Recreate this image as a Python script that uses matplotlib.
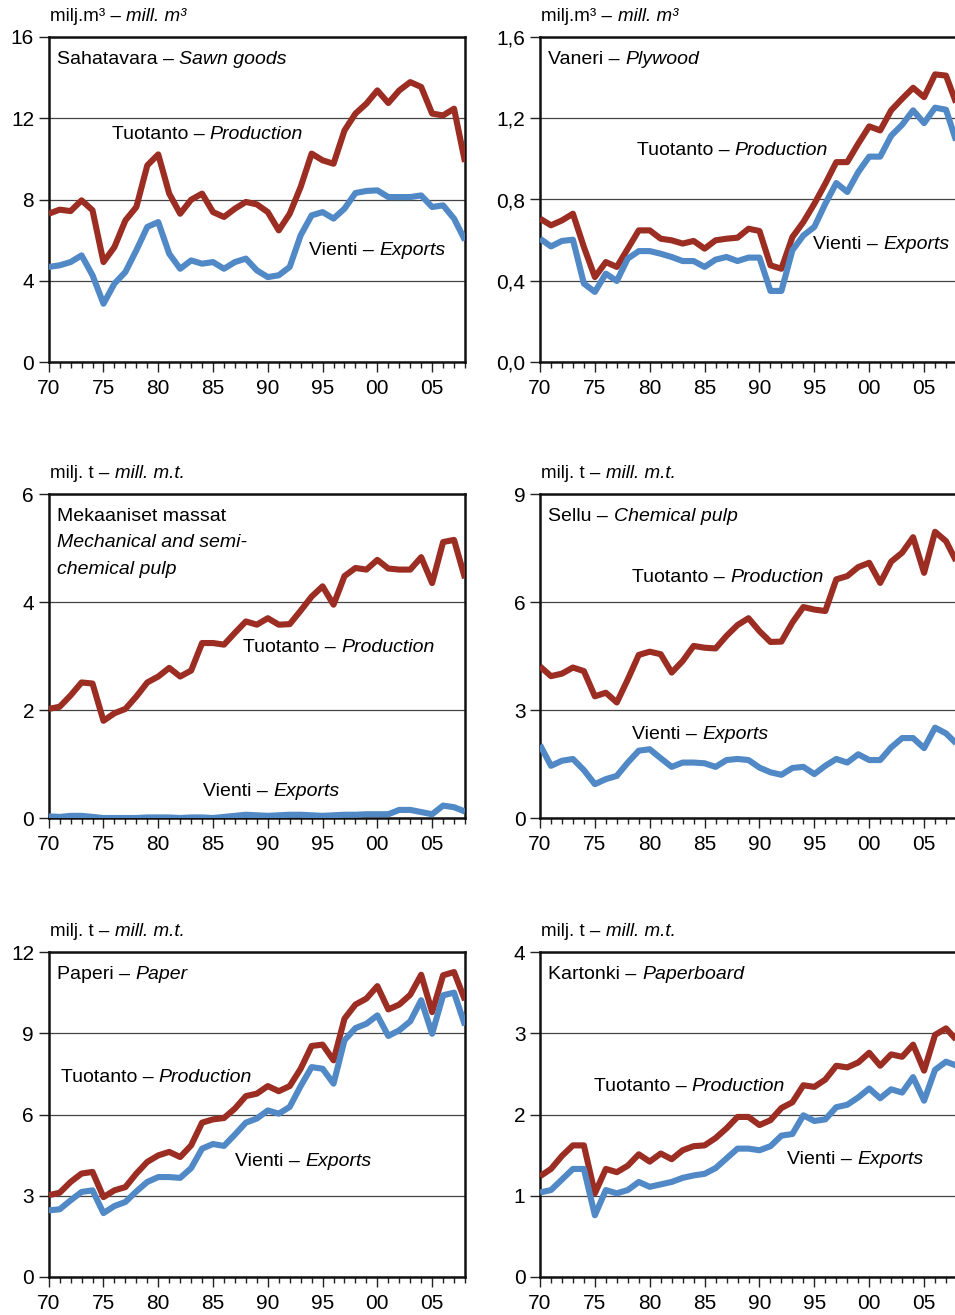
import numpy as np
import matplotlib
matplotlib.use("Agg")
import matplotlib.pyplot as plt
from matplotlib.ticker import MultipleLocator, FuncFormatter

plt.rcParams['font.family'] = ['Liberation Sans', 'DejaVu Sans']

years = np.arange(1970, 2009)

# Sahatavara - Sawn goods (milj. m3)
sawn_prod = [7.30, 7.50, 7.43, 7.96, 7.47, 4.92, 5.66, 6.97, 7.63, 9.68,
             10.22, 8.29, 7.30, 7.99, 8.29, 7.38, 7.14, 7.55, 7.88, 7.76,
             7.38, 6.48, 7.30, 8.62, 10.26, 9.93, 9.76, 11.40, 12.23, 12.72,
             13.37, 12.75, 13.37, 13.78, 13.54, 12.23, 12.14, 12.47, 9.85]
sawn_exp = [4.68, 4.76, 4.92, 5.25, 4.27, 2.87, 3.86, 4.43, 5.50, 6.65,
            6.89, 5.33, 4.59, 5.00, 4.84, 4.92, 4.59, 4.92, 5.09, 4.51,
            4.18, 4.27, 4.68, 6.24, 7.22, 7.38, 7.06, 7.55, 8.32, 8.42,
            8.45, 8.12, 8.12, 8.12, 8.20, 7.63, 7.71, 7.06, 5.99]

# Vaneri - Plywood (milj. m3)
ply_prod = [0.706, 0.673, 0.697, 0.730, 0.566, 0.418, 0.492, 0.468, 0.558, 0.648,
            0.648, 0.607, 0.599, 0.583, 0.596, 0.558, 0.599, 0.607, 0.612, 0.656,
            0.645, 0.476, 0.459, 0.615, 0.689, 0.779, 0.878, 0.984, 0.984, 1.075,
            1.160, 1.140, 1.239, 1.296, 1.350, 1.304, 1.416, 1.410, 1.264]
ply_exp = [0.607, 0.569, 0.596, 0.602, 0.386, 0.345, 0.435, 0.399, 0.509, 0.546,
           0.546, 0.533, 0.517, 0.497, 0.497, 0.468, 0.504, 0.517, 0.497, 0.514,
           0.514, 0.350, 0.350, 0.550, 0.623, 0.665, 0.779, 0.881, 0.837, 0.935,
           1.011, 1.011, 1.114, 1.168, 1.239, 1.176, 1.252, 1.242, 1.075]

# Mekaaniset massat - Mechanical and semi-chemical pulp (milj. t)
mech_prod = [2.02, 2.06, 2.27, 2.51, 2.49, 1.80, 1.94, 2.02, 2.25, 2.51,
             2.62, 2.78, 2.62, 2.73, 3.24, 3.24, 3.21, 3.43, 3.64, 3.58,
             3.70, 3.58, 3.59, 3.84, 4.10, 4.29, 3.95, 4.48, 4.63, 4.60,
             4.78, 4.62, 4.60, 4.60, 4.83, 4.35, 5.11, 5.15, 4.44]
mech_exp = [0.03, 0.02, 0.04, 0.04, 0.02, 0.00, 0.00, 0.00, 0.00, 0.01,
            0.01, 0.01, 0.00, 0.01, 0.01, 0.00, 0.02, 0.04, 0.06, 0.05,
            0.04, 0.05, 0.06, 0.06, 0.05, 0.04, 0.05, 0.06, 0.06, 0.07,
            0.07, 0.07, 0.15, 0.15, 0.11, 0.07, 0.23, 0.20, 0.12]

# Sellu - Chemical pulp (milj. t)
chem_prod = [4.21, 3.94, 4.01, 4.18, 4.08, 3.38, 3.48, 3.21, 3.85, 4.53,
             4.62, 4.55, 4.04, 4.36, 4.78, 4.73, 4.71, 5.06, 5.36, 5.55,
             5.19, 4.89, 4.90, 5.43, 5.86, 5.79, 5.75, 6.63, 6.72, 6.97,
             7.09, 6.53, 7.12, 7.37, 7.80, 6.81, 7.95, 7.69, 7.09]
chem_exp = [2.03, 1.45, 1.59, 1.64, 1.33, 0.94, 1.08, 1.17, 1.54, 1.87,
            1.91, 1.66, 1.42, 1.54, 1.54, 1.52, 1.42, 1.61, 1.64, 1.61,
            1.40, 1.27, 1.20, 1.39, 1.42, 1.22, 1.45, 1.64, 1.54, 1.77,
            1.61, 1.61, 1.96, 2.22, 2.22, 1.94, 2.51, 2.35, 2.05]

# Paperi - Paper (milj. t)
paper_prod = [3.02, 3.11, 3.51, 3.82, 3.88, 2.95, 3.20, 3.32, 3.82, 4.25,
              4.49, 4.62, 4.43, 4.86, 5.70, 5.82, 5.87, 6.22, 6.68, 6.77,
              7.05, 6.86, 7.05, 7.69, 8.53, 8.58, 8.00, 9.54, 10.06, 10.28,
              10.74, 9.88, 10.06, 10.42, 11.16, 9.78, 11.14, 11.26, 10.22]
paper_exp = [2.46, 2.50, 2.83, 3.14, 3.20, 2.36, 2.62, 2.77, 3.16, 3.51,
             3.69, 3.69, 3.66, 4.02, 4.74, 4.91, 4.84, 5.26, 5.70, 5.85,
             6.15, 6.03, 6.28, 7.05, 7.75, 7.69, 7.14, 8.74, 9.19, 9.35,
             9.66, 8.90, 9.11, 9.44, 10.22, 8.98, 10.40, 10.50, 9.29]

# Kartonki - Paperboard (milj. t)
board_prod = [1.24, 1.33, 1.49, 1.62, 1.62, 1.03, 1.33, 1.29, 1.37, 1.51,
              1.42, 1.52, 1.45, 1.56, 1.61, 1.62, 1.71, 1.83, 1.97, 1.97,
              1.87, 1.93, 2.08, 2.15, 2.36, 2.34, 2.43, 2.60, 2.58, 2.64,
              2.76, 2.60, 2.74, 2.71, 2.86, 2.54, 2.98, 3.06, 2.91]
board_exp = [1.04, 1.07, 1.20, 1.33, 1.33, 0.76, 1.07, 1.03, 1.07, 1.17,
             1.11, 1.14, 1.17, 1.22, 1.25, 1.27, 1.34, 1.46, 1.58, 1.58,
             1.56, 1.61, 1.74, 1.76, 1.99, 1.92, 1.94, 2.09, 2.12, 2.21,
             2.32, 2.20, 2.31, 2.27, 2.46, 2.17, 2.55, 2.65, 2.60]

RED = '#9b2d22'
BLUE = '#5089c6'

W, H = 955, 1315
fig = plt.figure(figsize=(W / 100, H / 100), dpi=100)


def make_axes(left_px, top_px, right_px, bottom_px):
    return fig.add_axes([left_px / W, 1 - bottom_px / H,
                         (right_px - left_px) / W, (bottom_px - top_px) / H])


def rich_text(ax, x, y, parts, transform, size=14, va='center'):
    # parts: list of (text, italic); drawn one after the other on a line
    t = None
    for txt, italic in parts:
        style = 'italic' if italic else 'normal'
        if t is None:
            t = ax.text(x, y, txt, transform=transform, fontsize=size,
                        style=style, ha='left', va=va, zorder=5)
        else:
            t = ax.annotate(txt, xycoords=t, xy=(1, 0), va='bottom',
                            ha='left', fontsize=size, style=style, zorder=5)
    return t


UNITS = {
    'm3': [('milj.m³ – ', False), ('mill. m³', True)],
    't': [('milj. t – ', False), ('mill. m.t.', True)],
}

specs = [
    # prod, exp, ymax, step, fmt, unit kind, title lines, prod label, exp label, rect px
    (sawn_prod, sawn_exp, 16, 4, lambda v, p: '%d' % v, 'm3',
     [[('Sahatavara – ', False), ('Sawn goods', True)]],
     (1975.75, 11.2), (1993.75, 5.5), (48.7, 37, 465, 362)),
    (ply_prod, ply_exp, 1.6, 0.4, lambda v, p: ('%.1f' % v).replace('.', ','), 'm3',
     [[('Vaneri – ', False), ('Plywood', True)]],
     (1978.8, 1.04), (1994.9, 0.58), (540, 37, 957, 362)),
    (mech_prod, mech_exp, 6, 2, lambda v, p: '%d' % v, 't',
     [[('Mekaaniset massat', False)],
      [('Mechanical and semi-', True)],
      [('chemical pulp', True)]],
     (1987.75, 3.15), (1984.1, 0.5), (48.7, 494, 465, 818)),
    (chem_prod, chem_exp, 9, 3, lambda v, p: '%d' % v, 't',
     [[('Sellu – ', False), ('Chemical pulp', True)]],
     (1978.4, 6.67), (1978.4, 2.33), (540, 494, 957, 818)),
    (paper_prod, paper_exp, 12, 3, lambda v, p: '%d' % v, 't',
     [[('Paperi – ', False), ('Paper', True)]],
     (1971.1, 7.35), (1987.0, 4.28), (48.7, 952, 465, 1277)),
    (board_prod, board_exp, 4, 1, lambda v, p: '%d' % v, 't',
     [[('Kartonki – ', False), ('Paperboard', True)]],
     (1974.9, 2.34), (1992.5, 1.45), (540, 952, 957, 1277)),
]

for prod, exp, ymax, step, fmt, kind, titles, pxy, exy, rect in specs:
    ax = make_axes(*rect)
    ax.plot(years, prod, color=RED, lw=4.4, solid_joinstyle='round',
            solid_capstyle='butt', zorder=3)
    ax.plot(years, exp, color=BLUE, lw=4.4, solid_joinstyle='round',
            solid_capstyle='butt', zorder=3)
    ax.set_xlim(1970, 2008)
    ax.set_ylim(0, ymax)
    ax.xaxis.set_major_locator(MultipleLocator(5))
    ax.xaxis.set_minor_locator(MultipleLocator(1))
    ax.yaxis.set_major_locator(MultipleLocator(step))
    ax.xaxis.set_major_formatter(FuncFormatter(lambda v, p: '%02d' % (int(round(v)) % 100)))
    ax.yaxis.set_major_formatter(FuncFormatter(fmt))
    ax.tick_params(axis='both', which='major', direction='out', length=7,
                   width=1.0, labelsize=15, color='#222222')
    ax.tick_params(axis='x', which='major', pad=5)
    ax.tick_params(axis='x', which='minor', direction='out', length=4,
                   width=1.0, color='#222222')
    ax.yaxis.grid(True, color='#444444', lw=0.9)
    ax.set_axisbelow(True)
    for s in ax.spines.values():
        s.set_linewidth(1.8)
        s.set_color('#111111')

    rich_text(ax, 0.003, 1.062, UNITS[kind], ax.transAxes, size=13.5)

    ty = 0.932
    for line in titles:
        rich_text(ax, 0.02, ty, line, ax.transAxes)
        ty -= 0.082

    rich_text(ax, pxy[0], pxy[1], [('Tuotanto – ', False), ('Production', True)],
              ax.transData)
    rich_text(ax, exy[0], exy[1], [('Vienti – ', False), ('Exports', True)],
              ax.transData)

fig.savefig('out.png', dpi=100)
